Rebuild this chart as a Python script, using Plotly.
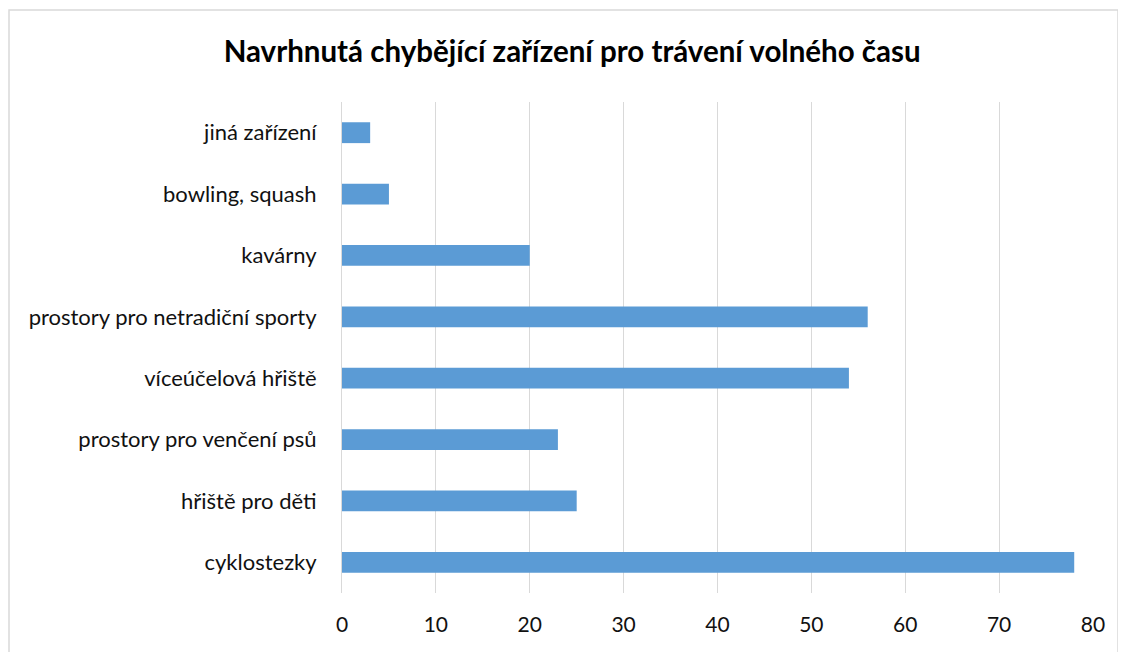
import plotly.graph_objects as go

# categories listed bottom to top, as drawn
categories = [
    "cyklostezky",
    "hřiště pro děti",
    "prostory pro venčení psů",
    "víceúčelová hřiště",
    "prostory pro netradiční sporty",
    "kavárny",
    "bowling, squash",
    "jiná zařízení",
]
values = [78, 25, 23, 54, 56, 20, 5, 3]
x_ticks = [0, 10, 20, 30, 40, 50, 60, 70, 80]

fig = go.Figure(go.Bar(
    x=values,
    y=categories,
    orientation="h",
    marker=dict(color="#5B9BD5", line=dict(width=0)),
    hoverinfo="x+y",
))

fig.update_layout(
    title=dict(
        text="<b>Navrhnutá chybějící zařízení pro trávení volného času</b>",
        x=0.501, xanchor="center", y=0.9325, yanchor="middle",
        font=dict(family="Lato", size=29.5, color="#000000"),
    ),
    width=1126,
    height=652,
    margin=dict(l=334, r=41, t=94, b=67),
    paper_bgcolor="white",
    plot_bgcolor="white",
    bargap=0.66,
    showlegend=False,
    font=dict(family="Lato", size=22, color="#111111"),
)

fig.update_xaxes(
    range=[0, 80],
    tickvals=x_ticks,
    showgrid=True,
    gridcolor="#d9d9d9",
    gridwidth=1,
    zeroline=False,
    showline=False,
    ticks="",
    ticklabelstandoff=17,
    tickfont=dict(size=21),
    fixedrange=True,
)
fig.update_yaxes(
    showgrid=False,
    zeroline=False,
    showline=True,
    linecolor="#d9d9d9",
    ticks="",
    ticklabelstandoff=20,
    fixedrange=True,
)

# outer chart border
fig.add_shape(
    type="rect", xref="paper", yref="paper",
    x0=-0.4434, x1=1.0333, y0=-0.14, y1=1.1874,
    line=dict(color="#d9d9d9", width=1.5),
    fillcolor="rgba(0,0,0,0)",
    layer="below",
)

fig.write_html("out.html")
